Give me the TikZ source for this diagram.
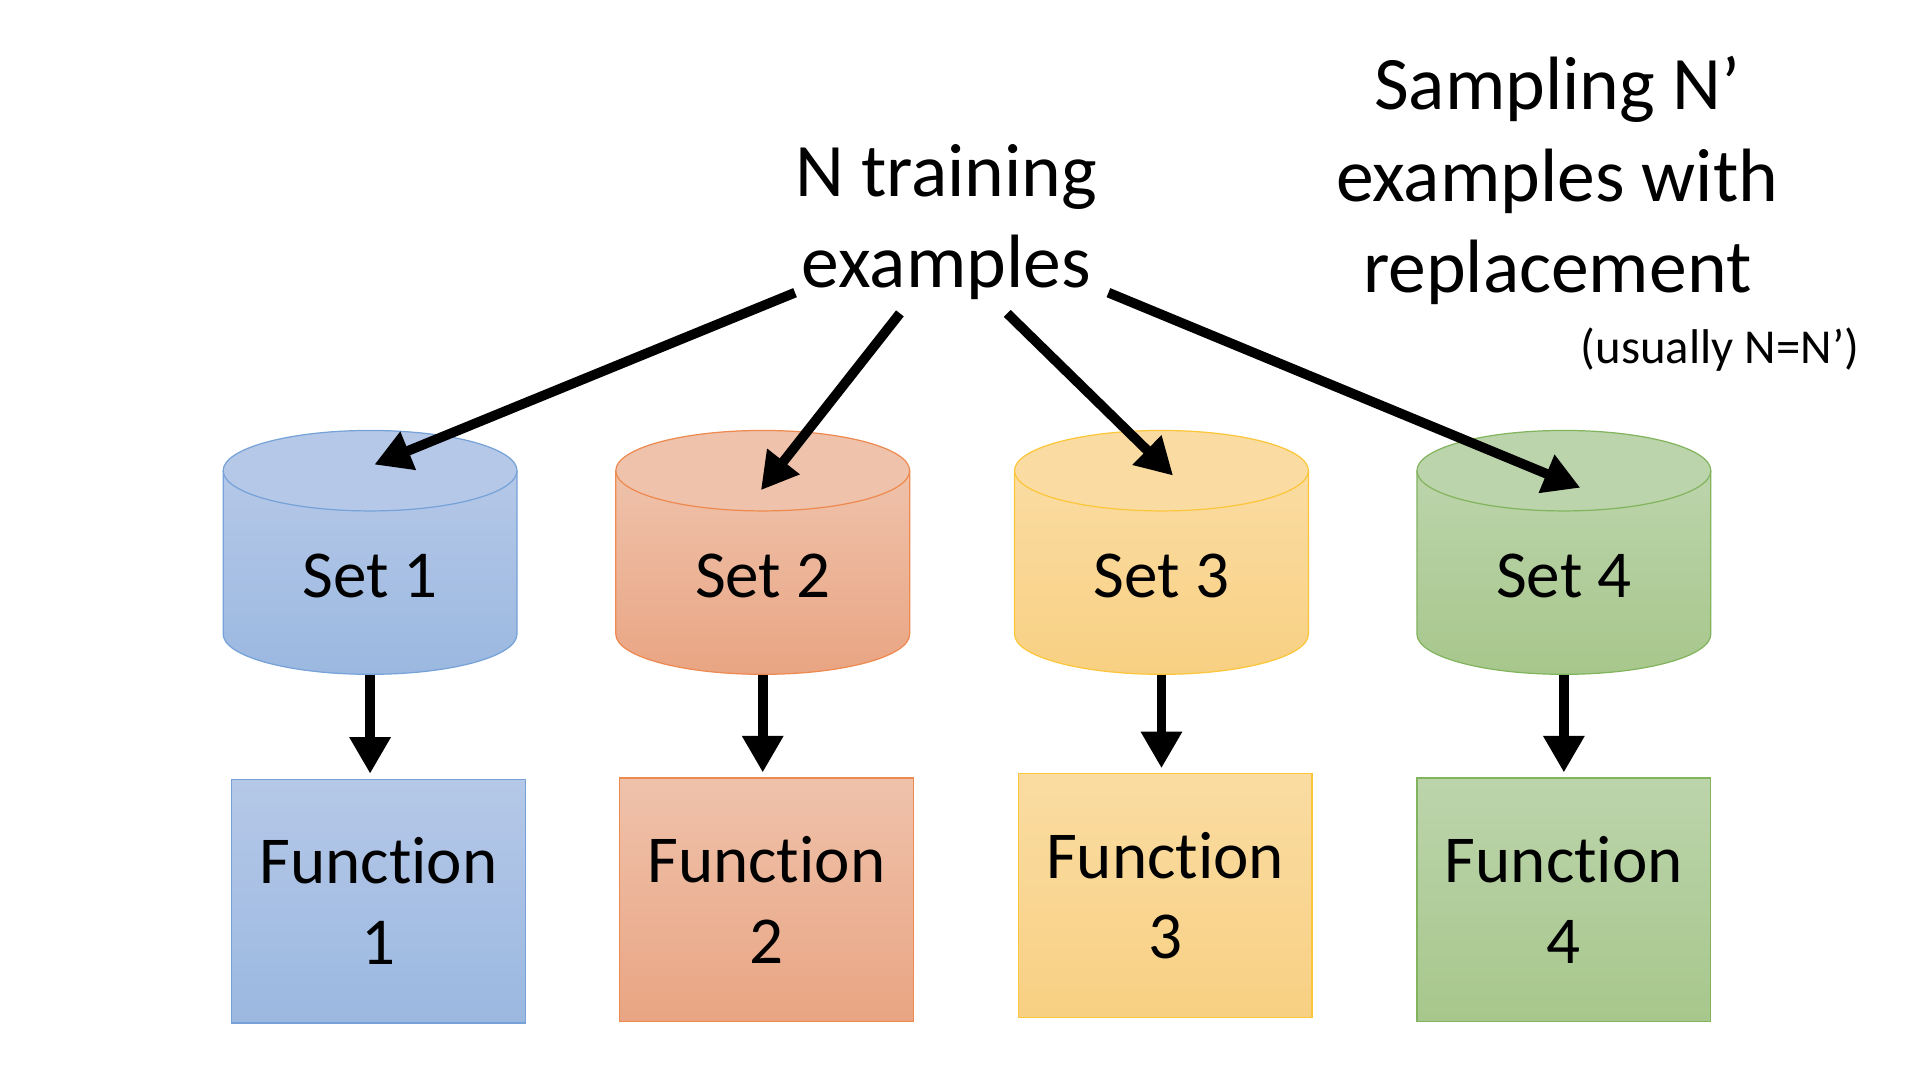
\documentclass[tikz,border=0pt]{standalone}
\usepackage{fontspec}
\setmainfont{Carlito}[Ligatures={NoCommon,NoContextual,NoDiscretionary}]
\usetikzlibrary{arrows.meta}
\definecolor{blueT}{HTML}{B5C8E8}
\definecolor{blueB}{HTML}{9BB8E0}
\definecolor{blueL}{HTML}{76A2D8}
\definecolor{orangeT}{HTML}{EFC2AB}
\definecolor{orangeB}{HTML}{E9A583}
\definecolor{orangeL}{HTML}{EE8A50}
\definecolor{yellowT}{HTML}{FADCA2}
\definecolor{yellowB}{HTML}{F8D083}
\definecolor{yellowL}{HTML}{FCC63A}
\definecolor{greenT}{HTML}{BCD4AB}
\definecolor{greenB}{HTML}{A7C78C}
\definecolor{greenL}{HTML}{82B45E}
\tikzset{
  bigtext/.style={font=\fontsize{62}{75}\selectfont, align=center, inner sep=0pt},
  smalltext/.style={font=\fontsize{40}{48}\selectfont, inner sep=0pt},
  lbl/.style={font=\fontsize{55}{66}\selectfont, inner sep=0pt},
  cylframe/.style={minimum width=241pt, minimum height=200pt, inner sep=0pt},
  funcbox/.style={draw, line width=1pt, minimum width=241pt, minimum height=200pt, inner sep=0pt, align=center, font=\fontsize{55}{66}\selectfont},
  bigarrow/.style={line width=8pt, -{Triangle[length=30pt,width=32pt]}},
}
\begin{document}
\begin{tikzpicture}[x=1pt,y=-1pt]
\useasboundingbox[fill=white] (0,0) rectangle (1568,881);

% texts
\node[bigtext] (ntrain) at (776,182) {N training\\examples};
\node[bigtext] (sampling) at (1277,148) {Sampling N’\\examples with\\replacement};
\node[smalltext] (usually) at (1410.5,286.5) {(usually N=N’)};

% cylinders and function boxes
\foreach \x/\bx/\by/\n/\c in {303.5/310.5/739/1/blue,625.5/628.5/738/2/orange,952.5/955.5/734.5/3/yellow,1282.5/1282.5/738/4/green}{
  \path[top color=\c T, bottom color=\c B]
    (\x-120.5,386) -- (\x-120.5,520) arc[start angle=180,end angle=0,x radius=120.5,y radius=33] -- (\x+120.5,386) -- cycle;
  \draw[\c L, line width=1pt]
    (\x-120.5,386) -- (\x-120.5,520) arc[start angle=180,end angle=0,x radius=120.5,y radius=33] -- (\x+120.5,386);
  \draw[\c L, line width=1pt, fill=\c T] (\x,386) ellipse[x radius=120.5, y radius=33];
  \node[cylframe] (cyl\n) at (\x,453) {};
  \node[lbl] (set\n) at (\x,472.5) {Set \n};
  \node[funcbox, draw=\c L, top color=\c T, bottom color=\c B] (f\n) at (\bx,\by) {Function\\\n};
  \draw[bigarrow, shorten >=4pt] (cyl\n.south) -- (cyl\n.south |- f\n.north);
}

% sampling arrows
\coordinate (s1) at (652,240);
\coordinate (e1) at (307,381);
\coordinate (s2) at (738,257);
\coordinate (e2) at (624,402);
\coordinate (s3) at (826,257);
\coordinate (e3) at (962,390);
\coordinate (s4) at (909,240);
\coordinate (e4) at (1296,400);
\foreach \i in {1,2,3,4}{
  \draw[bigarrow] (s\i) -- (e\i);
}
\end{tikzpicture}
\end{document}
